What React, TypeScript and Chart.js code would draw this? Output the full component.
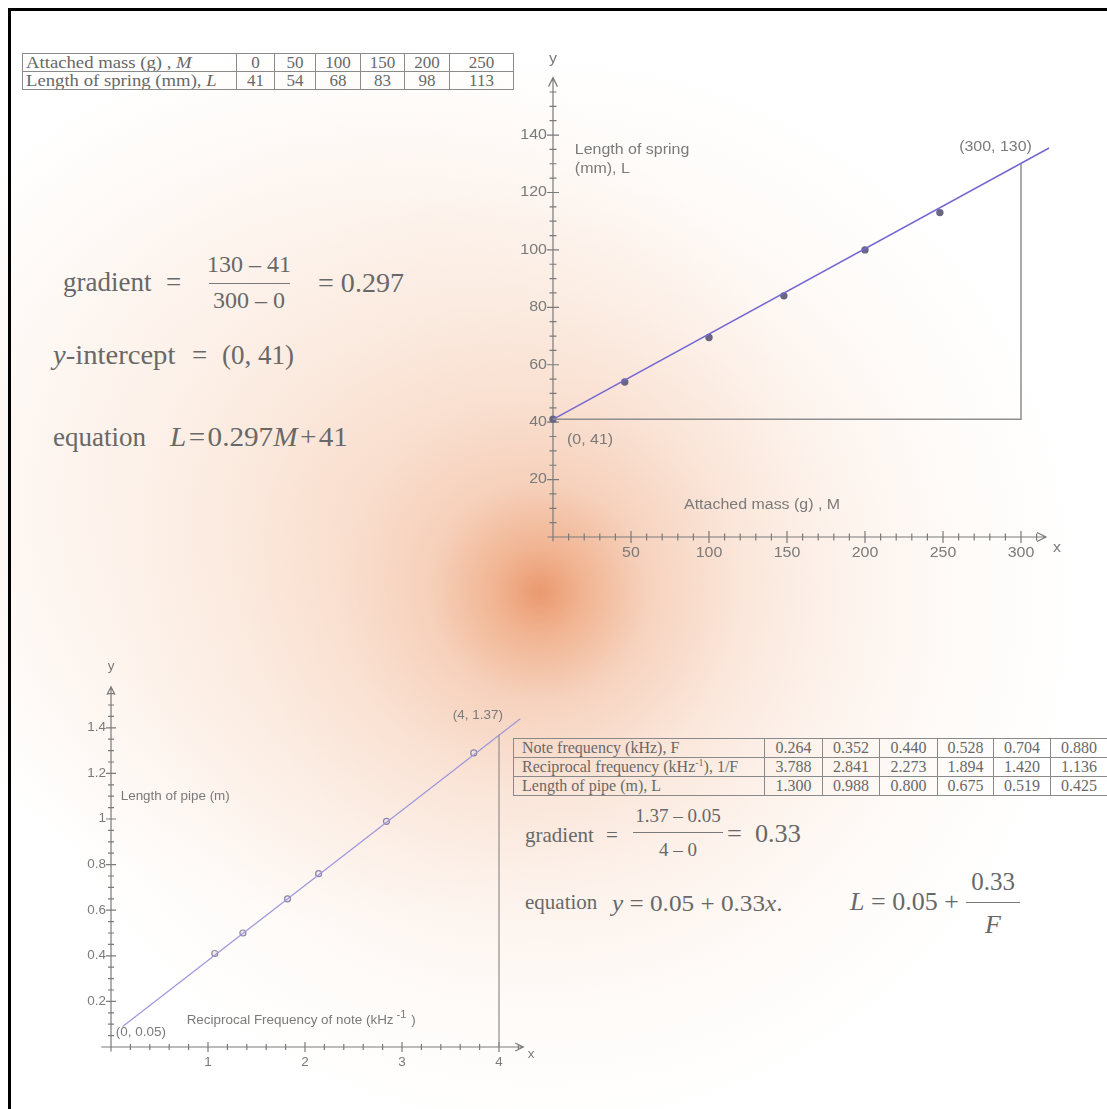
import React, { useEffect, useRef } from "react";
import { Chart, registerables } from "chart.js";

Chart.register(...registerables);

// ---------- Spring experiment (top) ----------
const massHeader = ["0", "50", "100", "150", "200", "250"];
const springHeader = ["41", "54", "68", "83", "98", "113"];
const massDots = [0, 46, 100, 148, 200, 248];
const springDots = [41, 54, 69.5, 84, 100, 113];
const springFitMass = [0, 318];
const springFitLength = [41, 135.5];
const springGuideMass = [0, 300, 300];
const springGuideLength = [41, 41, 130];
const springXTicks = [50, 100, 150, 200, 250, 300];
const springYTicks = [20, 40, 60, 80, 100, 120, 140];

// ---------- Pipe experiment (bottom) ----------
const freqRow = ["0.264", "0.352", "0.440", "0.528", "0.704", "0.880"];
const recipRow = ["3.788", "2.841", "2.273", "1.894", "1.420", "1.136"];
const pipeRow = ["1.300", "0.988", "0.800", "0.675", "0.519", "0.425"];
const recipDots = [1.07, 1.36, 1.82, 2.14, 2.84, 3.74];
const pipeDots = [0.41, 0.5, 0.65, 0.76, 0.99, 1.29];
const pipeFitX = [0.12, 4.22];
const pipeFitY = [0.09, 1.44];
const pipeGuideX = [4, 4];
const pipeGuideY = [0, 1.37];
const pipeXTicks = [1, 2, 3, 4];
const pipeYTicks = [0.2, 0.4, 0.6, 0.8, 1, 1.2, 1.4];

type Note = { text: string; x: number; y: number; align: CanvasTextAlign; sup?: string; tail?: string };
type AxisSpec = {
  xStart: number; xEnd: number; yStart: number; yEnd: number;
  xStep: number; xStepEnd: number; yStep: number; yStepEnd: number;
  xTicks: number[]; yTicks: number[];
  font: number; noteFont: number; stretch: number; major: number; minor: number; arrow: number;
  xLabelGap: number; yLabelGap: number;
  xName: { x: number; y: number }; yName: { x: number; y: number };
  notes: Note[];
};

const AXIS_COLOR = "#7a7a7a";
const LABEL_COLOR = "#7a7a7a";
const SANS = "'Liberation Sans', Arial, sans-serif";

function drawText(ctx: CanvasRenderingContext2D, text: string, x: number, y: number, align: CanvasTextAlign, sx: number) {
  ctx.save();
  ctx.translate(x, y);
  ctx.scale(sx, 1);
  ctx.textAlign = align;
  ctx.fillText(text, 0, 0);
  ctx.restore();
}

function makeAxisPlugin(spec: AxisSpec) {
  const isTick = (list: number[], v: number) => list.some((t) => Math.abs(t - v) < 1e-6);
  return {
    id: "handAxes",
    beforeDatasetsDraw(chart: any) {
      const X = (v: number) => chart.scales.x.getPixelForValue(v);
      const Y = (v: number) => chart.scales.y.getPixelForValue(v);
      const ctx: CanvasRenderingContext2D = chart.ctx;
      const ox = X(0);
      const oy = Y(0);
      ctx.save();
      ctx.strokeStyle = AXIS_COLOR;
      ctx.lineWidth = 1.2;
      ctx.beginPath();
      ctx.moveTo(X(spec.xStart), oy);
      ctx.lineTo(X(spec.xEnd), oy);
      const tx = X(spec.xEnd);
      ctx.moveTo(tx - spec.arrow, oy - spec.arrow / 2);
      ctx.lineTo(tx, oy);
      ctx.lineTo(tx - spec.arrow, oy + spec.arrow / 2);
      ctx.moveTo(ox, Y(spec.yStart));
      ctx.lineTo(ox, Y(spec.yEnd));
      const ty = Y(spec.yEnd);
      ctx.moveTo(ox - spec.arrow / 2, ty + spec.arrow);
      ctx.lineTo(ox, ty);
      ctx.lineTo(ox + spec.arrow / 2, ty + spec.arrow);
      for (let i = 1; i * spec.xStep <= spec.xStepEnd + 1e-9; i++) {
        const v = i * spec.xStep;
        const len = isTick(spec.xTicks, v) ? spec.major : spec.minor;
        ctx.moveTo(X(v), oy - len);
        ctx.lineTo(X(v), oy + len);
      }
      for (let i = 1; i * spec.yStep <= spec.yStepEnd + 1e-9; i++) {
        const v = i * spec.yStep;
        const len = isTick(spec.yTicks, v) ? spec.major : spec.minor;
        ctx.moveTo(ox - len, Y(v));
        ctx.lineTo(ox + len, Y(v));
      }
      ctx.stroke();

      ctx.fillStyle = LABEL_COLOR;
      ctx.font = `${spec.font}px ${SANS}`;
      ctx.textBaseline = "top";
      spec.xTicks.forEach((v) => drawText(ctx, String(v), X(v), oy + spec.xLabelGap, "center", spec.stretch));
      ctx.textBaseline = "middle";
      spec.yTicks.forEach((v) => drawText(ctx, String(v), ox - spec.yLabelGap, Y(v), "right", spec.stretch));
      drawText(ctx, "x", X(spec.xName.x), Y(spec.xName.y), "center", spec.stretch);
      drawText(ctx, "y", X(spec.yName.x), Y(spec.yName.y), "center", spec.stretch);
      ctx.restore();
    },
    afterDatasetsDraw(chart: any) {
      const X = (v: number) => chart.scales.x.getPixelForValue(v);
      const Y = (v: number) => chart.scales.y.getPixelForValue(v);
      const ctx: CanvasRenderingContext2D = chart.ctx;
      ctx.save();
      ctx.fillStyle = LABEL_COLOR;
      ctx.textBaseline = "middle";
      const f = `${spec.noteFont}px ${SANS}`;
      spec.notes.forEach((n) => {
        ctx.font = f;
        const px = X(n.x);
        const py = Y(n.y);
        drawText(ctx, n.text, px, py, n.align, spec.stretch);
        if (n.sup) {
          let cx = px + ctx.measureText(n.text).width * spec.stretch + 3;
          const sf = Math.round(spec.noteFont * 0.85);
          ctx.font = `${sf}px ${SANS}`;
          drawText(ctx, n.sup, cx, py - spec.noteFont * 0.45, "left", spec.stretch);
          cx += ctx.measureText(n.sup).width * spec.stretch + 1;
          ctx.font = f;
          if (n.tail) drawText(ctx, n.tail, cx, py, "left", spec.stretch);
        }
      });
      ctx.restore();
    },
  };
}

type Box = { left: number; top: number; w: number; h: number; ox: number; oy: number; kx: number; ky: number };

function Plot({ box, datasets, spec }: { box: Box; datasets: any[]; spec: AxisSpec }) {
  const ref = useRef<HTMLCanvasElement>(null);
  useEffect(() => {
    const lx = box.ox - box.left;
    const ly = box.oy - box.top;
    const chart = new Chart(ref.current as HTMLCanvasElement, {
      type: "scatter",
      data: { datasets },
      options: {
        animation: false,
        responsive: false,
        devicePixelRatio: 1,
        events: [],
        layout: { padding: 0, autoPadding: false },
        plugins: { legend: { display: false }, tooltip: { enabled: false } },
        scales: {
          x: { type: "linear", display: false, min: -lx / box.kx, max: (box.w - lx) / box.kx },
          y: { type: "linear", display: false, min: -(box.h - ly) / box.ky, max: ly / box.ky },
        },
      } as any,
      plugins: [makeAxisPlugin(spec) as any],
    });
    return () => chart.destroy();
  }, []);
  return (
    <canvas
      ref={ref}
      width={box.w}
      height={box.h}
      style={{ position: "absolute", left: box.left, top: box.top, width: box.w, height: box.h }}
    />
  );
}

const pts = (xs: number[], ys: number[]) => xs.map((x, i) => ({ x, y: ys[i] }));

const topBox: Box = { left: 520, top: 40, w: 587, h: 540, ox: 553, oy: 537, kx: 1.56, ky: 2.871 };
const bottomBox: Box = { left: 40, top: 650, w: 510, h: 420, ox: 111, oy: 1047, kx: 97, ky: 228 };

const topSpec: AxisSpec = {
  xStart: -3.5, xEnd: 316, yStart: -1.5, yEnd: 160,
  xStep: 10, xStepEnd: 310, yStep: 5, yStepEnd: 155,
  xTicks: springXTicks, yTicks: springYTicks,
  font: 14, noteFont: 14, stretch: 1.14, major: 6, minor: 3.5, arrow: 9,
  xLabelGap: 9, yLabelGap: 6,
  xName: { x: 323, y: -4 }, yName: { x: 0, y: 166.5 },
  notes: [
    { text: "Length of spring", x: 14, y: 134.8, align: "left" },
    { text: "(mm), L", x: 14, y: 128.2, align: "left" },
    { text: "(300, 130)", x: 307, y: 135.8, align: "right" },
    { text: "(0, 41)", x: 9, y: 33.8, align: "left" },
    { text: "Attached mass (g) , M", x: 84, y: 11.1, align: "left" },
  ],
};

const bottomSpec: AxisSpec = {
  xStart: -0.1, xEnd: 4.25, yStart: -0.02, yEnd: 1.58,
  xStep: 0.2, xStepEnd: 4.2, yStep: 0.05, yStepEnd: 1.55,
  xTicks: pipeXTicks, yTicks: pipeYTicks,
  font: 12, noteFont: 12, stretch: 1.12, major: 5, minor: 3, arrow: 8,
  xLabelGap: 10, yLabelGap: 5,
  xName: { x: 4.33, y: -0.035 }, yName: { x: 0, y: 1.67 },
  notes: [
    { text: "Length of pipe (m)", x: 0.1, y: 1.096, align: "left" },
    { text: "(4, 1.37)", x: 4.04, y: 1.452, align: "right" },
    { text: "(0, 0.05)", x: 0.05, y: 0.061, align: "left" },
    { text: "Reciprocal Frequency of note (kHz", x: 0.78, y: 0.114, align: "left", sup: "-1", tail: " )" },
  ],
};

const topDatasets = [
  { data: pts(springGuideMass, springGuideLength), showLine: true, borderColor: "#8e8e8e", borderWidth: 1.5, pointRadius: 0, fill: false },
  { data: pts(springFitMass, springFitLength), showLine: true, borderColor: "#7468d2", borderWidth: 1.5, pointRadius: 0, fill: false },
  { data: pts(massDots, springDots), showLine: false, pointRadius: 3.7, pointBackgroundColor: "#686680", pointBorderWidth: 0, borderColor: "#686680" },
];

const bottomDatasets = [
  { data: pts(pipeGuideX, pipeGuideY), showLine: true, borderColor: "#8e8e8e", borderWidth: 1.2, pointRadius: 0, fill: false },
  { data: pts(pipeFitX, pipeFitY), showLine: true, borderColor: "#9c96dc", borderWidth: 1.2, pointRadius: 0, fill: false },
  { data: pts(recipDots, pipeDots), showLine: false, pointRadius: 3, pointBackgroundColor: "rgba(240,228,230,0.7)", pointBorderColor: "#8a86a4", pointBorderWidth: 1.2, borderColor: "#8a86a4" },
];

const TEXT = "#686868";
const SERIF = "'Liberation Serif', 'Times New Roman', serif";

function Txt({ x, cy, fs, center, sx, children, style }: any) {
  const tf: string[] = [];
  if (center) tf.push("translateX(-50%)");
  if (sx) tf.push(`scaleX(${sx})`);
  return (
    <div
      style={{
        position: "absolute",
        left: x,
        top: cy - fs * 0.6,
        fontSize: fs,
        lineHeight: `${fs}px`,
        whiteSpace: "nowrap",
        transform: tf.length ? tf.join(" ") : undefined,
        transformOrigin: center ? "center" : "left",
        ...style,
      }}
    >
      {children}
    </div>
  );
}

function Bar({ x, y, w }: { x: number; y: number; w: number }) {
  return <div style={{ position: "absolute", left: x, top: y, width: w, height: 1, background: "#7a7a7a" }} />;
}

const cell: React.CSSProperties = { border: "1px solid #8a8a8a", padding: "0 3px", textAlign: "center", overflow: "hidden", whiteSpace: "nowrap" };
const wide = (sx: number): React.CSSProperties => ({ display: "inline-block", transform: `scaleX(${sx})`, transformOrigin: "left" });

export default function App() {
  const t1Widths = [214, 38, 41, 45, 44, 45, 64];
  const t2Widths = [251, 58, 57, 58, 56, 57, 57];
  return (
    <div
      style={{
        position: "absolute",
        left: 0,
        top: 0,
        width: 1107,
        height: 1109,
        overflow: "hidden",
        color: TEXT,
        fontFamily: SERIF,
        background:
          "radial-gradient(circle at 540px 592px, rgba(234,148,104,0.95) 0px, rgba(238,165,124,0.8) 45px, rgba(242,188,158,0.62) 110px, rgba(246,207,184,0.5) 200px, rgba(249,223,206,0.4) 300px, rgba(252,238,228,0.25) 420px, rgba(255,255,255,0) 540px), radial-gradient(ellipse 470px 440px at 330px 480px, rgba(249,220,201,0.55) 0px, rgba(250,228,213,0.35) 60%, rgba(255,255,255,0) 100%), #ffffff",
      }}
    >
      <div style={{ position: "absolute", left: 8, top: 8, width: 1120, height: 1120, borderTop: "3px solid #000", borderLeft: "3px solid #000" }} />

      {/* top table */}
      <table style={{ position: "absolute", left: 22, top: 53, borderCollapse: "collapse", tableLayout: "fixed", width: 492, fontSize: 17, lineHeight: "17px" }}>
        <colgroup>{t1Widths.map((w, i) => <col key={i} style={{ width: w }} />)}</colgroup>
        <tbody>
          <tr>
            <td style={{ ...cell, textAlign: "left" }}><span style={wide(1.1)}>Attached mass (g) , <i>M</i></span></td>
            {massHeader.map((v) => <td key={v} style={cell}>{v}</td>)}
          </tr>
          <tr>
            <td style={{ ...cell, textAlign: "left" }}><span style={wide(1.1)}>Length of spring (mm), <i>L</i></span></td>
            {springHeader.map((v) => <td key={v} style={cell}>{v}</td>)}
          </tr>
        </tbody>
      </table>

      {/* top equations */}
      <Txt x={63} cy={285} fs={27}>gradient</Txt>
      <Txt x={166} cy={285} fs={27}>=</Txt>
      <Txt x={249} cy={266} fs={24} center>130 – 41</Txt>
      <Bar x={209} y={283} w={81} />
      <Txt x={249} cy={302} fs={24} center>300 – 0</Txt>
      <Txt x={318} cy={286} fs={27} sx={1.04}>= 0.297</Txt>
      <Txt x={53} cy={358} fs={27} sx={1.06}><i>y</i>-intercept</Txt>
      <Txt x={192} cy={358} fs={27}>=</Txt>
      <Txt x={222} cy={358} fs={27}>(0, 41)</Txt>
      <Txt x={53} cy={440} fs={27}>equation</Txt>
      <Txt x={170} cy={440} fs={27} sx={1.08}><i>L</i>&#8202;=&#8202;0.297<i>M</i>&#8202;+&#8202;41</Txt>

      {/* bottom table */}
      <table style={{ position: "absolute", left: 513, top: 738, borderCollapse: "collapse", tableLayout: "fixed", width: 594, fontSize: 16, lineHeight: "18px" }}>
        <colgroup>{t2Widths.map((w, i) => <col key={i} style={{ width: w }} />)}</colgroup>
        <tbody>
          <tr>
            <td style={{ ...cell, textAlign: "left", paddingLeft: 8 }}>Note frequency (kHz), F</td>
            {freqRow.map((v) => <td key={v} style={cell}>{v}</td>)}
          </tr>
          <tr>
            <td style={{ ...cell, textAlign: "left", paddingLeft: 8 }}>Reciprocal frequency (kHz<sup style={{ fontSize: 10, lineHeight: 0 }}>-1</sup>), 1/F</td>
            {recipRow.map((v) => <td key={v} style={cell}>{v}</td>)}
          </tr>
          <tr>
            <td style={{ ...cell, textAlign: "left", paddingLeft: 8 }}>Length of pipe (m), L</td>
            {pipeRow.map((v) => <td key={v} style={cell}>{v}</td>)}
          </tr>
        </tbody>
      </table>

      {/* bottom equations */}
      <Txt x={525} cy={838} fs={21}>gradient</Txt>
      <Txt x={606} cy={838} fs={21}>=</Txt>
      <Txt x={678} cy={817} fs={19} center>1.37 – 0.05</Txt>
      <Bar x={633} y={832} w={90} />
      <Txt x={678} cy={851} fs={19} center>4 – 0</Txt>
      <Txt x={727} cy={836} fs={25} sx={1.05}>=&nbsp; 0.33</Txt>
      <Txt x={525} cy={905} fs={21}>equation</Txt>
      <Txt x={612} cy={905} fs={24} sx={1.05}><i>y</i> = 0.05 + 0.33<i>x</i>.</Txt>
      <Txt x={850} cy={905} fs={26}><i>L</i> = 0.05 +</Txt>
      <Txt x={993} cy={884} fs={25} center>0.33</Txt>
      <Bar x={966} y={902} w={54} />
      <Txt x={993} cy={928} fs={26} center><i>F</i></Txt>

      <Plot box={topBox} datasets={topDatasets} spec={topSpec} />
      <Plot box={bottomBox} datasets={bottomDatasets} spec={bottomSpec} />
    </div>
  );
}
